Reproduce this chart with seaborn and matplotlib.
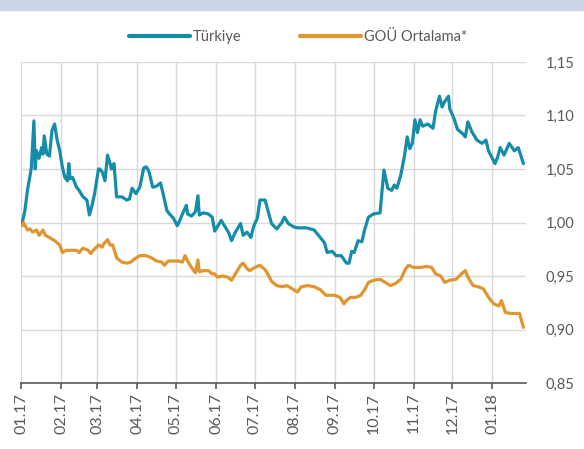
import pandas as pd
import seaborn as sns
import matplotlib.pyplot as plt
import matplotlib.dates as mdates
from matplotlib.patches import Rectangle
from matplotlib.ticker import FuncFormatter

# Türkiye serisi (okunan değerler)
tr_dates = [
    "2017-01-02", "2017-01-04", "2017-01-06", "2017-01-09", "2017-01-11", "2017-01-12",
    "2017-01-13", "2017-01-15", "2017-01-17", "2017-01-18", "2017-01-19", "2017-01-21",
    "2017-01-23", "2017-01-25", "2017-01-27", "2017-01-29", "2017-01-31", "2017-02-02",
    "2017-02-04", "2017-02-06", "2017-02-07", "2017-02-08", "2017-02-10", "2017-02-13",
    "2017-02-15", "2017-02-18", "2017-02-21", "2017-02-23", "2017-02-25", "2017-02-27",
    "2017-03-02", "2017-03-03", "2017-03-05", "2017-03-07", "2017-03-09", "2017-03-11",
    "2017-03-12", "2017-03-14", "2017-03-16", "2017-03-20", "2017-03-24", "2017-03-26",
    "2017-03-28", "2017-03-31", "2017-04-03", "2017-04-06", "2017-04-08", "2017-04-10",
    "2017-04-13", "2017-04-16", "2017-04-19", "2017-04-21", "2017-04-24", "2017-04-26",
    "2017-04-29", "2017-05-02", "2017-05-04", "2017-05-06", "2017-05-09", "2017-05-10",
    "2017-05-13", "2017-05-16", "2017-05-18", "2017-05-19", "2017-05-22", "2017-05-26",
    "2017-05-29", "2017-05-31", "2017-06-02", "2017-06-05", "2017-06-08", "2017-06-11",
    "2017-06-13", "2017-06-16", "2017-06-20", "2017-06-22", "2017-06-25", "2017-06-28",
    "2017-06-30", "2017-07-03", "2017-07-05", "2017-07-09", "2017-07-11", "2017-07-14",
    "2017-07-18", "2017-07-22", "2017-07-24", "2017-07-27", "2017-07-31", "2017-08-03",
    "2017-08-10", "2017-08-16", "2017-08-20", "2017-08-24", "2017-08-26", "2017-08-30",
    "2017-09-02", "2017-09-06", "2017-09-10", "2017-09-12", "2017-09-14", "2017-09-16",
    "2017-09-19", "2017-09-22", "2017-09-24", "2017-09-27", "2017-10-01", "2017-10-06",
    "2017-10-08", "2017-10-09", "2017-10-12", "2017-10-15", "2017-10-17", "2017-10-19",
    "2017-10-22", "2017-10-25", "2017-10-27", "2017-10-29", "2017-10-31", "2017-11-02",
    "2017-11-04", "2017-11-06", "2017-11-08", "2017-11-12", "2017-11-16", "2017-11-18",
    "2017-11-21", "2017-11-23", "2017-11-25", "2017-11-28", "2017-11-29", "2017-12-02",
    "2017-12-05", "2017-12-09", "2017-12-11", "2017-12-13", "2017-12-16", "2017-12-20",
    "2017-12-24", "2017-12-27", "2017-12-29", "2018-01-03", "2018-01-05", "2018-01-07",
    "2018-01-10", "2018-01-14", "2018-01-18", "2018-01-21", "2018-01-25",
]
tr_values = [
    1.000, 1.011, 1.030, 1.051, 1.095, 1.050,
    1.067, 1.060, 1.070, 1.064, 1.081, 1.064,
    1.062, 1.086, 1.092, 1.077, 1.067, 1.052,
    1.042, 1.039, 1.055, 1.041, 1.042, 1.033,
    1.030, 1.024, 1.021, 1.007, 1.016, 1.027,
    1.050, 1.050, 1.047, 1.039, 1.063, 1.055,
    1.050, 1.055, 1.024, 1.024, 1.021, 1.022,
    1.032, 1.027, 1.033, 1.051, 1.052, 1.048,
    1.033, 1.034, 1.037, 1.027, 1.011, 1.008,
    1.004, 0.997, 1.002, 1.008, 1.016, 1.008,
    1.006, 1.010, 1.025, 1.007, 1.009, 1.008,
    1.005, 0.992, 0.996, 1.002, 0.996, 0.990,
    0.983, 0.991, 0.999, 0.988, 0.991, 0.986,
    0.996, 1.004, 1.021, 1.021, 1.012, 0.999,
    0.994, 1.000, 1.005, 0.999, 0.996, 0.995,
    0.995, 0.993, 0.987, 0.981, 0.972, 0.973,
    0.969, 0.969, 0.962, 0.962, 0.973, 0.972,
    0.983, 0.982, 0.993, 1.005, 1.008, 1.009,
    1.035, 1.049, 1.032, 1.030, 1.035, 1.032,
    1.044, 1.063, 1.080, 1.069, 1.074, 1.096,
    1.084, 1.096, 1.090, 1.092, 1.088, 1.104,
    1.118, 1.108, 1.113, 1.118, 1.106, 1.098,
    1.087, 1.083, 1.080, 1.094, 1.085, 1.077,
    1.074, 1.077, 1.067, 1.055, 1.061, 1.070,
    1.063, 1.074, 1.067, 1.070, 1.055,
]

# GOÜ ortalaması
ge_dates = [
    "2017-01-02", "2017-01-03", "2017-01-06", "2017-01-08", "2017-01-10", "2017-01-13",
    "2017-01-15", "2017-01-18", "2017-01-20", "2017-01-23", "2017-01-27", "2017-01-31",
    "2017-02-02", "2017-02-05", "2017-02-09", "2017-02-13", "2017-02-15", "2017-02-18",
    "2017-02-22", "2017-02-24", "2017-02-26", "2017-03-02", "2017-03-05", "2017-03-06",
    "2017-03-09", "2017-03-11", "2017-03-13", "2017-03-16", "2017-03-20", "2017-03-24",
    "2017-03-27", "2017-03-30", "2017-04-03", "2017-04-08", "2017-04-12", "2017-04-16",
    "2017-04-20", "2017-04-22", "2017-04-25", "2017-04-29", "2017-05-03", "2017-05-06",
    "2017-05-08", "2017-05-10", "2017-05-13", "2017-05-16", "2017-05-18", "2017-05-19",
    "2017-05-22", "2017-05-26", "2017-05-29", "2017-05-31", "2017-06-02", "2017-06-06",
    "2017-06-10", "2017-06-13", "2017-06-16", "2017-06-20", "2017-06-22", "2017-06-25",
    "2017-06-27", "2017-07-01", "2017-07-05", "2017-07-09", "2017-07-11", "2017-07-14",
    "2017-07-18", "2017-07-22", "2017-07-26", "2017-07-30", "2017-08-03", "2017-08-06",
    "2017-08-11", "2017-08-16", "2017-08-21", "2017-08-25", "2017-09-01", "2017-09-05",
    "2017-09-08", "2017-09-10", "2017-09-13", "2017-09-17", "2017-09-21", "2017-09-24",
    "2017-09-27", "2017-10-01", "2017-10-06", "2017-10-10", "2017-10-14", "2017-10-18",
    "2017-10-22", "2017-10-26", "2017-10-28", "2017-11-01", "2017-11-06", "2017-11-11",
    "2017-11-15", "2017-11-18", "2017-11-22", "2017-11-25", "2017-11-29", "2017-12-04",
    "2017-12-08", "2017-12-11", "2017-12-13", "2017-12-17", "2017-12-21", "2017-12-25",
    "2017-12-29", "2018-01-02", "2018-01-06", "2018-01-08", "2018-01-11", "2018-01-15",
    "2018-01-20", "2018-01-22", "2018-01-25",
]
ge_values = [
    0.997, 1.000, 0.993, 0.994, 0.991, 0.993,
    0.988, 0.993, 0.988, 0.986, 0.983, 0.979,
    0.972, 0.974, 0.974, 0.974, 0.972, 0.976,
    0.974, 0.971, 0.974, 0.979, 0.977, 0.980,
    0.984, 0.979, 0.979, 0.967, 0.963, 0.962,
    0.963, 0.966, 0.969, 0.969, 0.967, 0.964,
    0.963, 0.960, 0.964, 0.964, 0.964, 0.963,
    0.969, 0.964, 0.958, 0.953, 0.965, 0.954,
    0.955, 0.955, 0.952, 0.952, 0.949, 0.950,
    0.949, 0.946, 0.952, 0.960, 0.962, 0.957,
    0.955, 0.958, 0.960, 0.956, 0.952, 0.945,
    0.941, 0.940, 0.941, 0.938, 0.935, 0.940,
    0.941, 0.940, 0.937, 0.932, 0.932, 0.930,
    0.924, 0.927, 0.930, 0.930, 0.932, 0.937,
    0.944, 0.946, 0.947, 0.944, 0.941, 0.943,
    0.947, 0.957, 0.960, 0.958, 0.958, 0.959,
    0.958, 0.952, 0.950, 0.944, 0.946, 0.947,
    0.952, 0.955, 0.949, 0.941, 0.940, 0.938,
    0.930, 0.924, 0.922, 0.927, 0.916, 0.915,
    0.915, 0.915, 0.902,
]

series_names = ["Türkiye", "GOÜ Ortalama*"]
colors = ["#158ca9", "#e0952e"]
y_ticks = [0.85, 0.90, 0.95, 1.00, 1.05, 1.10, 1.15]

df = pd.concat([
    pd.DataFrame({"tarih": pd.to_datetime(tr_dates), "deger": tr_values, "seri": series_names[0]}),
    pd.DataFrame({"tarih": pd.to_datetime(ge_dates), "deger": ge_values, "seri": series_names[1]}),
])

sns.set_style("white")
plt.rcParams["font.family"] = ["Lato", "DejaVu Sans"]
text_col = "#595959"

fig = plt.figure(figsize=(5.84, 4.49), dpi=100)
fig.patches.append(Rectangle((0, 1 - 10 / 449), 1, 10 / 449, transform=fig.transFigure,
                             color="#c9d5e4", zorder=0))
ax = fig.add_axes([21 / 584, 1 - 383 / 449, (526 - 21) / 584, (383 - 62) / 449])

sns.lineplot(data=df, x="tarih", y="deger", hue="seri", palette=colors,
             linewidth=2.3, ax=ax, legend=False)

ax.set_xlim(pd.Timestamp("2017-01-01"), pd.Timestamp("2018-01-27"))
ax.set_ylim(0.85, 1.15)
ax.set_yticks(y_ticks)
ax.yaxis.tick_right()
ax.yaxis.set_major_formatter(FuncFormatter(lambda v, p: f"{v:.2f}".replace(".", ",")))
ax.xaxis.set_major_locator(mdates.MonthLocator())
ax.xaxis.set_major_formatter(mdates.DateFormatter("%m.%y"))
ax.set_xlabel("")
ax.set_ylabel("")

ax.grid(True, color="#d9d9d9", linewidth=1.0)
ax.set_axisbelow(True)
for s in ["top", "right", "left"]:
    ax.spines[s].set_visible(False)
ax.spines["bottom"].set_color(text_col)
ax.spines["bottom"].set_linewidth(1.2)

ax.tick_params(axis="y", right=False, length=0, pad=14, labelsize=10.5, labelcolor=text_col)
ax.tick_params(axis="x", bottom=True, direction="out", length=4, width=1.2, color=text_col,
               labelsize=11.5, labelcolor=text_col, rotation=90, pad=3)

handles = [plt.Line2D([], [], color=c, linewidth=3.0) for c in colors]
fig.legend(handles, series_names, loc="center", bbox_to_anchor=(298 / 584, 1 - 37 / 449),
           ncol=2, frameon=False, fontsize=10.5, labelcolor=text_col,
           handlelength=4.2, handletextpad=0.2, columnspacing=4.0)

fig.savefig("out.png", dpi=100)
